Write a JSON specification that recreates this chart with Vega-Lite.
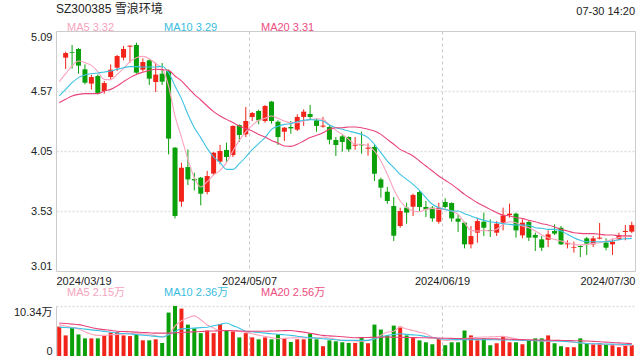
{
  "$schema": "https://vega.github.io/schema/vega-lite/v6.json",
  "background": "white",
  "padding": {"left": 5, "top": 2, "right": 6, "bottom": 0},
  "config": {"font": "Liberation Sans, Noto Sans CJK SC", "view": {"stroke": null}},
  "title": {"text": "SZ300385 雪浪环境", "anchor": "start", "frame": "group", "fontSize": 12, "fontWeight": "normal", "color": "#222", "offset": 0, "dy": 10},
  "spacing": 35,
  "bounds": "flush",
  "resolve": {"scale": {"color": "independent"}, "legend": {"color": "independent"}},
  "datasets": {
    "k": [
      {"n":0,"d":"03-19","v":6.08},
      {"n":1,"d":"03-20","o":4.859,"h":4.911,"l":4.761,"c":4.899,"v":4.26},
      {"n":2,"d":"03-21","o":4.908,"h":4.969,"l":4.764,"c":4.902,"v":5.82},
      {"n":3,"d":"03-22","o":4.934,"h":4.943,"l":4.720,"c":4.790,"v":4.46},
      {"n":4,"d":"03-25","o":4.758,"h":4.801,"l":4.628,"c":4.642,"v":3.65},
      {"n":5,"d":"03-26","o":4.634,"h":4.709,"l":4.582,"c":4.691,"v":3.65},
      {"n":6,"d":"03-27","o":4.700,"h":4.714,"l":4.541,"c":4.553,"v":3.65},
      {"n":7,"d":"03-28","o":4.570,"h":4.657,"l":4.547,"c":4.639,"v":4.19},
      {"n":8,"d":"03-29","o":4.691,"h":4.801,"l":4.671,"c":4.755,"v":4.87},
      {"n":9,"d":"04-01","o":4.772,"h":4.882,"l":4.743,"c":4.873,"v":4.93},
      {"n":10,"d":"04-02","o":4.859,"h":4.960,"l":4.836,"c":4.934,"v":4.26},
      {"n":11,"d":"04-03","o":4.954,"h":4.966,"l":4.816,"c":4.963,"v":4.12},
      {"n":12,"d":"04-08","o":4.969,"h":4.989,"l":4.720,"c":4.729,"v":4.46},
      {"n":13,"d":"04-09","o":4.755,"h":4.853,"l":4.738,"c":4.821,"v":3.24},
      {"n":14,"d":"04-10","o":4.836,"h":4.847,"l":4.622,"c":4.677,"v":3.24},
      {"n":15,"d":"04-11","o":4.648,"h":4.816,"l":4.561,"c":4.712,"v":3.45},
      {"n":16,"d":"04-12","o":4.720,"h":4.813,"l":4.622,"c":4.651,"v":2.70},
      {"n":17,"d":"04-15","o":4.743,"h":4.755,"l":4.021,"c":4.157,"v":8.98},
      {"n":18,"d":"04-16","o":4.079,"h":4.085,"l":3.466,"c":3.487,"v":10.34},
      {"n":19,"d":"04-17","o":3.611,"h":3.949,"l":3.567,"c":3.905,"v":9.80},
      {"n":20,"d":"04-18","o":3.911,"h":4.064,"l":3.755,"c":3.804,"v":6.49},
      {"n":21,"d":"04-19","o":3.807,"h":3.862,"l":3.709,"c":3.796,"v":5.74},
      {"n":22,"d":"04-22","o":3.819,"h":3.825,"l":3.579,"c":3.680,"v":4.73},
      {"n":23,"d":"04-23","o":3.695,"h":3.877,"l":3.674,"c":3.833,"v":5.27},
      {"n":24,"d":"04-24","o":3.854,"h":4.041,"l":3.842,"c":4.035,"v":4.73},
      {"n":25,"d":"04-25","o":3.958,"h":4.102,"l":3.934,"c":4.050,"v":6.63},
      {"n":26,"d":"04-26","o":4.059,"h":4.122,"l":3.949,"c":3.998,"v":5.27},
      {"n":27,"d":"04-29","o":4.015,"h":4.272,"l":3.998,"c":4.267,"v":5.07},
      {"n":28,"d":"04-30","o":4.275,"h":4.281,"l":4.128,"c":4.189,"v":3.85},
      {"n":29,"d":"05-06","o":4.194,"h":4.431,"l":4.171,"c":4.310,"v":4.73},
      {"n":30,"d":"05-07","o":4.345,"h":4.388,"l":4.310,"c":4.379,"v":3.85},
      {"n":31,"d":"05-08","o":4.397,"h":4.408,"l":4.281,"c":4.316,"v":3.45},
      {"n":32,"d":"05-09","o":4.310,"h":4.449,"l":4.296,"c":4.440,"v":3.85},
      {"n":33,"d":"05-10","o":4.478,"h":4.483,"l":4.287,"c":4.310,"v":3.45},
      {"n":34,"d":"05-13","o":4.304,"h":4.316,"l":4.102,"c":4.171,"v":4.46},
      {"n":35,"d":"05-14","o":4.217,"h":4.258,"l":4.137,"c":4.252,"v":3.65},
      {"n":36,"d":"05-15","o":4.258,"h":4.310,"l":4.200,"c":4.246,"v":2.90},
      {"n":37,"d":"05-16","o":4.235,"h":4.368,"l":4.223,"c":4.345,"v":3.45},
      {"n":38,"d":"05-17","o":4.345,"h":4.411,"l":4.267,"c":4.391,"v":3.45},
      {"n":39,"d":"05-20","o":4.371,"h":4.449,"l":4.324,"c":4.345,"v":4.66},
      {"n":40,"d":"05-21","o":4.316,"h":4.333,"l":4.217,"c":4.267,"v":3.45},
      {"n":41,"d":"05-22","o":4.261,"h":4.345,"l":4.252,"c":4.270,"v":2.03},
      {"n":42,"d":"05-23","o":4.258,"h":4.267,"l":4.108,"c":4.148,"v":3.24},
      {"n":43,"d":"05-24","o":4.145,"h":4.171,"l":4.007,"c":4.102,"v":3.04},
      {"n":44,"d":"05-27","o":4.177,"h":4.189,"l":4.044,"c":4.128,"v":2.84},
      {"n":45,"d":"05-28","o":4.171,"h":4.177,"l":4.044,"c":4.064,"v":2.70},
      {"n":46,"d":"05-29","o":4.096,"h":4.171,"l":4.061,"c":4.105,"v":2.70},
      {"n":47,"d":"05-30","o":4.108,"h":4.218,"l":4.027,"c":4.099,"v":3.85},
      {"n":48,"d":"05-31","o":4.070,"h":4.116,"l":4.009,"c":4.079,"v":2.64},
      {"n":49,"d":"06-03","o":4.085,"h":4.108,"l":3.790,"c":3.853,"v":6.49},
      {"n":50,"d":"06-04","o":3.804,"h":3.819,"l":3.646,"c":3.732,"v":5.47},
      {"n":51,"d":"06-05","o":3.697,"h":3.738,"l":3.593,"c":3.617,"v":4.26},
      {"n":52,"d":"06-06","o":3.573,"h":3.651,"l":3.270,"c":3.316,"v":6.28},
      {"n":53,"d":"06-07","o":3.400,"h":3.559,"l":3.385,"c":3.530,"v":6.08},
      {"n":54,"d":"06-11","o":3.559,"h":3.602,"l":3.420,"c":3.516,"v":4.26},
      {"n":55,"d":"06-12","o":3.567,"h":3.680,"l":3.487,"c":3.669,"v":3.85},
      {"n":56,"d":"06-13","o":3.695,"h":3.703,"l":3.530,"c":3.565,"v":3.24},
      {"n":57,"d":"06-14","o":3.565,"h":3.617,"l":3.478,"c":3.544,"v":2.84},
      {"n":58,"d":"06-17","o":3.559,"h":3.573,"l":3.437,"c":3.466,"v":2.43},
      {"n":59,"d":"06-18","o":3.437,"h":3.602,"l":3.420,"c":3.559,"v":3.65},
      {"n":60,"d":"06-19","o":3.608,"h":3.640,"l":3.553,"c":3.565,"v":2.23},
      {"n":61,"d":"06-20","o":3.599,"h":3.605,"l":3.437,"c":3.466,"v":2.84},
      {"n":62,"d":"06-21","o":3.464,"h":3.501,"l":3.348,"c":3.437,"v":2.84},
      {"n":63,"d":"06-24","o":3.429,"h":3.438,"l":3.206,"c":3.241,"v":5.27},
      {"n":64,"d":"06-25","o":3.241,"h":3.400,"l":3.206,"c":3.313,"v":4.26},
      {"n":65,"d":"06-26","o":3.342,"h":3.472,"l":3.255,"c":3.443,"v":3.24},
      {"n":66,"d":"06-27","o":3.437,"h":3.516,"l":3.313,"c":3.385,"v":3.65},
      {"n":67,"d":"06-28","o":3.365,"h":3.458,"l":3.305,"c":3.357,"v":2.23},
      {"n":68,"d":"07-01","o":3.342,"h":3.443,"l":3.313,"c":3.420,"v":2.64},
      {"n":69,"d":"07-02","o":3.429,"h":3.559,"l":3.362,"c":3.492,"v":4.05},
      {"n":70,"d":"07-03","o":3.495,"h":3.594,"l":3.472,"c":3.507,"v":2.84},
      {"n":71,"d":"07-04","o":3.507,"h":3.516,"l":3.299,"c":3.362,"v":2.84},
      {"n":72,"d":"07-05","o":3.319,"h":3.458,"l":3.293,"c":3.429,"v":2.43},
      {"n":73,"d":"07-08","o":3.435,"h":3.443,"l":3.270,"c":3.299,"v":3.24},
      {"n":74,"d":"07-09","o":3.322,"h":3.342,"l":3.183,"c":3.299,"v":3.65},
      {"n":75,"d":"07-10","o":3.284,"h":3.313,"l":3.183,"c":3.212,"v":3.65},
      {"n":76,"d":"07-11","o":3.281,"h":3.362,"l":3.218,"c":3.328,"v":4.26},
      {"n":77,"d":"07-12","o":3.357,"h":3.414,"l":3.322,"c":3.334,"v":2.64},
      {"n":78,"d":"07-15","o":3.385,"h":3.400,"l":3.235,"c":3.241,"v":2.03},
      {"n":79,"d":"07-16","o":3.241,"h":3.276,"l":3.206,"c":3.250,"v":1.82},
      {"n":80,"d":"07-17","o":3.212,"h":3.264,"l":3.169,"c":3.218,"v":1.82},
      {"n":81,"d":"07-18","o":3.227,"h":3.232,"l":3.131,"c":3.218,"v":3.65},
      {"n":82,"d":"07-19","o":3.293,"h":3.305,"l":3.149,"c":3.247,"v":2.64},
      {"n":83,"d":"07-22","o":3.241,"h":3.313,"l":3.218,"c":3.293,"v":2.43},
      {"n":84,"d":"07-23","o":3.290,"h":3.426,"l":3.284,"c":3.299,"v":2.64},
      {"n":85,"d":"07-24","o":3.256,"h":3.293,"l":3.189,"c":3.212,"v":2.43},
      {"n":86,"d":"07-25","o":3.241,"h":3.293,"l":3.149,"c":3.264,"v":2.43},
      {"n":87,"d":"07-26","o":3.284,"h":3.342,"l":3.276,"c":3.322,"v":1.82},
      {"n":88,"d":"07-29","o":3.348,"h":3.409,"l":3.276,"c":3.357,"v":2.43},
      {"n":89,"d":"07-30","o":3.351,"h":3.437,"l":3.339,"c":3.408,"v":2.23}
    ],
    "ma": [
      {"n":0,"MA5":4.651,"MA10":4.527,"MA20":4.469},
      {"n":1,"MA5":4.720,"MA10":4.584,"MA20":4.498},
      {"n":2,"MA5":4.787,"MA10":4.642,"MA20":4.527},
      {"n":3,"MA5":4.830,"MA10":4.686,"MA20":4.541},
      {"n":4,"MA5":4.816,"MA10":4.709,"MA20":4.547},
      {"n":5,"MA5":4.792,"MA10":4.720,"MA20":4.547},
      {"n":6,"MA5":4.738,"MA10":4.726,"MA20":4.547},
      {"n":7,"MA5":4.671,"MA10":4.735,"MA20":4.570},
      {"n":8,"MA5":4.668,"MA10":4.743,"MA20":4.584},
      {"n":9,"MA5":4.714,"MA10":4.758,"MA20":4.613},
      {"n":10,"MA5":4.766,"MA10":4.772,"MA20":4.651},
      {"n":11,"MA5":4.824,"MA10":4.781,"MA20":4.686},
      {"n":12,"MA5":4.859,"MA10":4.781,"MA20":4.714},
      {"n":13,"MA5":4.870,"MA10":4.778,"MA20":4.732},
      {"n":14,"MA5":4.850,"MA10":4.778,"MA20":4.749},
      {"n":15,"MA5":4.807,"MA10":4.778,"MA20":4.758},
      {"n":16,"MA5":4.766,"MA10":4.784,"MA20":4.755},
      {"n":17,"MA5":4.613,"MA10":4.729,"MA20":4.749},
      {"n":18,"MA5":4.353,"MA10":4.613,"MA20":4.700},
      {"n":19,"MA5":4.171,"MA10":4.504,"MA20":4.657},
      {"n":20,"MA5":3.978,"MA10":4.368,"MA20":4.599},
      {"n":21,"MA5":3.819,"MA10":4.252,"MA20":4.541},
      {"n":22,"MA5":3.738,"MA10":4.166,"MA20":4.492},
      {"n":23,"MA5":3.784,"MA10":4.073,"MA20":4.440},
      {"n":24,"MA5":3.842,"MA10":3.998,"MA20":4.391},
      {"n":25,"MA5":3.882,"MA10":3.949,"MA20":4.353},
      {"n":26,"MA5":3.949,"MA10":3.891,"MA20":4.324},
      {"n":27,"MA5":4.050,"MA10":3.891,"MA20":4.296},
      {"n":28,"MA5":4.142,"MA10":3.940,"MA20":4.267},
      {"n":29,"MA5":4.215,"MA10":3.998,"MA20":4.244},
      {"n":30,"MA5":4.272,"MA10":4.062,"MA20":4.223},
      {"n":31,"MA5":4.316,"MA10":4.114,"MA20":4.194},
      {"n":32,"MA5":4.333,"MA10":4.166,"MA20":4.171},
      {"n":33,"MA5":4.353,"MA10":4.238,"MA20":4.142},
      {"n":34,"MA5":4.333,"MA10":4.264,"MA20":4.119},
      {"n":35,"MA5":4.310,"MA10":4.281,"MA20":4.093},
      {"n":36,"MA5":4.296,"MA10":4.287,"MA20":4.090},
      {"n":37,"MA5":4.296,"MA10":4.304,"MA20":4.108},
      {"n":38,"MA5":4.310,"MA10":4.316,"MA20":4.137},
      {"n":39,"MA5":4.324,"MA10":4.322,"MA20":4.166},
      {"n":40,"MA5":4.330,"MA10":4.319,"MA20":4.186},
      {"n":41,"MA5":4.324,"MA10":4.310,"MA20":4.209},
      {"n":42,"MA5":4.275,"MA10":4.275,"MA20":4.238},
      {"n":43,"MA5":4.229,"MA10":4.252,"MA20":4.252},
      {"n":44,"MA5":4.194,"MA10":4.238,"MA20":4.252},
      {"n":45,"MA5":4.151,"MA10":4.223,"MA20":4.258},
      {"n":46,"MA5":4.108,"MA10":4.209,"MA20":4.258},
      {"n":47,"MA5":4.108,"MA10":4.194,"MA20":4.252},
      {"n":48,"MA5":4.093,"MA10":4.166,"MA20":4.238},
      {"n":49,"MA5":4.050,"MA10":4.108,"MA20":4.223},
      {"n":50,"MA5":3.963,"MA10":4.036,"MA20":4.194},
      {"n":51,"MA5":3.848,"MA10":3.963,"MA20":4.151},
      {"n":52,"MA5":3.718,"MA10":3.906,"MA20":4.108},
      {"n":53,"MA5":3.617,"MA10":3.848,"MA20":4.064},
      {"n":54,"MA5":3.559,"MA10":3.804,"MA20":4.036},
      {"n":55,"MA5":3.530,"MA10":3.761,"MA20":4.007},
      {"n":56,"MA5":3.524,"MA10":3.709,"MA20":3.963},
      {"n":57,"MA5":3.544,"MA10":3.645,"MA20":3.920},
      {"n":58,"MA5":3.553,"MA10":3.588,"MA20":3.877},
      {"n":59,"MA5":3.544,"MA10":3.559,"MA20":3.833},
      {"n":60,"MA5":3.544,"MA10":3.544,"MA20":3.796},
      {"n":61,"MA5":3.530,"MA10":3.530,"MA20":3.761},
      {"n":62,"MA5":3.501,"MA10":3.530,"MA20":3.718},
      {"n":63,"MA5":3.429,"MA10":3.507,"MA20":3.674},
      {"n":64,"MA5":3.362,"MA10":3.487,"MA20":3.637},
      {"n":65,"MA5":3.357,"MA10":3.466,"MA20":3.602},
      {"n":66,"MA5":3.362,"MA10":3.449,"MA20":3.573},
      {"n":67,"MA5":3.357,"MA10":3.437,"MA20":3.544},
      {"n":68,"MA5":3.371,"MA10":3.429,"MA20":3.515},
      {"n":69,"MA5":3.414,"MA10":3.420,"MA20":3.495},
      {"n":70,"MA5":3.437,"MA10":3.414,"MA20":3.487},
      {"n":71,"MA5":3.429,"MA10":3.409,"MA20":3.472},
      {"n":72,"MA5":3.400,"MA10":3.409,"MA20":3.466},
      {"n":73,"MA5":3.385,"MA10":3.406,"MA20":3.449},
      {"n":74,"MA5":3.357,"MA10":3.385,"MA20":3.437},
      {"n":75,"MA5":3.322,"MA10":3.380,"MA20":3.420},
      {"n":76,"MA5":3.299,"MA10":3.371,"MA20":3.409},
      {"n":77,"MA5":3.284,"MA10":3.371,"MA20":3.391},
      {"n":78,"MA5":3.270,"MA10":3.357,"MA20":3.371},
      {"n":79,"MA5":3.255,"MA10":3.328,"MA20":3.357},
      {"n":80,"MA5":3.241,"MA10":3.299,"MA20":3.342},
      {"n":81,"MA5":3.235,"MA10":3.276,"MA20":3.336},
      {"n":82,"MA5":3.241,"MA10":3.264,"MA20":3.334},
      {"n":83,"MA5":3.247,"MA10":3.264,"MA20":3.334},
      {"n":84,"MA5":3.255,"MA10":3.264,"MA20":3.328},
      {"n":85,"MA5":3.270,"MA10":3.264,"MA20":3.322},
      {"n":86,"MA5":3.284,"MA10":3.270,"MA20":3.322},
      {"n":87,"MA5":3.299,"MA10":3.281,"MA20":3.316},
      {"n":88,"MA5":3.310,"MA10":3.290,"MA20":3.316},
      {"n":89,"MA5":3.320,"MA10":3.293,"MA20":3.310}
    ],
    "vma": [
      {"n":0,"MA5":6.49,"MA10":5.95,"MA20":6.82},
      {"n":1,"MA5":6.2,"MA10":5.88,"MA20":6.71},
      {"n":2,"MA5":5.9,"MA10":5.81,"MA20":6.60},
      {"n":3,"MA5":5.61,"MA10":5.74,"MA20":6.49},
      {"n":4,"MA5":5.0,"MA10":5.55,"MA20":6.20},
      {"n":5,"MA5":4.5,"MA10":5.40,"MA20":5.90},
      {"n":6,"MA5":4.26,"MA10":5.27,"MA20":5.61},
      {"n":7,"MA5":4.3,"MA10":5.09,"MA20":5.45},
      {"n":8,"MA5":4.38,"MA10":4.91,"MA20":5.29},
      {"n":9,"MA5":4.46,"MA10":4.73,"MA20":5.13},
      {"n":10,"MA5":4.55,"MA10":4.64,"MA20":5.06},
      {"n":11,"MA5":4.65,"MA10":4.55,"MA20":5.00},
      {"n":12,"MA5":4.73,"MA10":4.46,"MA20":4.93},
      {"n":13,"MA5":4.6,"MA10":4.32,"MA20":4.86},
      {"n":14,"MA5":4.46,"MA10":4.19,"MA20":4.80},
      {"n":15,"MA5":4.2,"MA10":4.05,"MA20":4.73},
      {"n":16,"MA5":4.0,"MA10":3.92,"MA20":4.73},
      {"n":17,"MA5":4.4,"MA10":4.4,"MA20":4.73},
      {"n":18,"MA5":6.2,"MA10":5.1,"MA20":4.80},
      {"n":19,"MA5":7.3,"MA10":5.61,"MA20":4.86},
      {"n":20,"MA5":7.9,"MA10":5.68,"MA20":4.93},
      {"n":21,"MA5":8.3,"MA10":5.77,"MA20":5.00},
      {"n":22,"MA5":7.5,"MA10":5.86,"MA20":5.06},
      {"n":23,"MA5":6.4,"MA10":5.95,"MA20":5.13},
      {"n":24,"MA5":5.8,"MA10":6.24,"MA20":5.18},
      {"n":25,"MA5":5.27,"MA10":6.53,"MA20":5.22},
      {"n":26,"MA5":5.27,"MA10":6.82,"MA20":5.27},
      {"n":27,"MA5":5.27,"MA10":6.28,"MA20":5.22},
      {"n":28,"MA5":5.1,"MA10":5.76,"MA20":5.18},
      {"n":29,"MA5":4.93,"MA10":5.13,"MA20":5.13},
      {"n":30,"MA5":4.6,"MA10":5.0,"MA20":5.13},
      {"n":31,"MA5":4.3,"MA10":4.86,"MA20":5.13},
      {"n":32,"MA5":4.05,"MA10":4.73,"MA20":5.13},
      {"n":33,"MA5":3.8,"MA10":4.6,"MA20":5.16},
      {"n":34,"MA5":3.58,"MA10":4.5,"MA20":5.20},
      {"n":35,"MA5":3.65,"MA10":4.38,"MA20":5.24},
      {"n":36,"MA5":3.72,"MA10":4.26,"MA20":5.27},
      {"n":37,"MA5":3.78,"MA10":4.1,"MA20":5.1},
      {"n":38,"MA5":3.75,"MA10":3.92,"MA20":4.93},
      {"n":39,"MA5":3.72,"MA10":3.8,"MA20":4.7},
      {"n":40,"MA5":3.7,"MA10":3.69,"MA20":4.48},
      {"n":41,"MA5":3.92,"MA10":3.58,"MA20":4.26},
      {"n":42,"MA5":3.7,"MA10":3.47,"MA20":4.16},
      {"n":43,"MA5":3.47,"MA10":3.35,"MA20":4.07},
      {"n":44,"MA5":3.24,"MA10":3.24,"MA20":3.97},
      {"n":45,"MA5":3.17,"MA10":3.24,"MA20":3.88},
      {"n":46,"MA5":3.1,"MA10":3.24,"MA20":3.78},
      {"n":47,"MA5":3.04,"MA10":3.24,"MA20":3.81},
      {"n":48,"MA5":3.24,"MA10":3.24,"MA20":3.84},
      {"n":49,"MA5":3.5,"MA10":3.58,"MA20":3.87},
      {"n":50,"MA5":4.3,"MA10":3.92,"MA20":3.89},
      {"n":51,"MA5":4.9,"MA10":4.26,"MA20":3.92},
      {"n":52,"MA5":5.13,"MA10":4.43,"MA20":3.89},
      {"n":53,"MA5":5.95,"MA10":4.59,"MA20":3.86},
      {"n":54,"MA5":5.6,"MA10":4.48,"MA20":3.84},
      {"n":55,"MA5":5.27,"MA10":4.37,"MA20":3.81},
      {"n":56,"MA5":4.9,"MA10":4.26,"MA20":3.78},
      {"n":57,"MA5":4.59,"MA10":4.03,"MA20":3.76},
      {"n":58,"MA5":3.9,"MA10":3.81,"MA20":3.74},
      {"n":59,"MA5":3.58,"MA10":3.58,"MA20":3.72},
      {"n":60,"MA5":3.24,"MA10":3.51,"MA20":3.68},
      {"n":61,"MA5":3.3,"MA10":3.45,"MA20":3.65},
      {"n":62,"MA5":3.38,"MA10":3.38,"MA20":3.62},
      {"n":63,"MA5":3.58,"MA10":3.38,"MA20":3.58},
      {"n":64,"MA5":3.78,"MA10":3.38,"MA20":3.58},
      {"n":65,"MA5":3.85,"MA10":3.38,"MA20":3.58},
      {"n":66,"MA5":3.92,"MA10":3.38,"MA20":3.58},
      {"n":67,"MA5":3.95,"MA10":3.38,"MA20":3.58},
      {"n":68,"MA5":4.0,"MA10":3.35,"MA20":3.54},
      {"n":69,"MA5":4.05,"MA10":3.32,"MA20":3.50},
      {"n":70,"MA5":3.8,"MA10":3.30,"MA20":3.46},
      {"n":71,"MA5":3.58,"MA10":3.27,"MA20":3.42},
      {"n":72,"MA5":3.4,"MA10":3.24,"MA20":3.38},
      {"n":73,"MA5":3.24,"MA10":3.21,"MA20":3.35},
      {"n":74,"MA5":3.17,"MA10":3.19,"MA20":3.32},
      {"n":75,"MA5":3.1,"MA10":3.16,"MA20":3.30},
      {"n":76,"MA5":3.04,"MA10":3.14,"MA20":3.27},
      {"n":77,"MA5":3.15,"MA10":3.11,"MA20":3.24},
      {"n":78,"MA5":3.24,"MA10":3.04,"MA20":3.21},
      {"n":79,"MA5":3.0,"MA10":2.97,"MA20":3.19},
      {"n":80,"MA5":2.85,"MA10":2.90,"MA20":3.16},
      {"n":81,"MA5":2.70,"MA10":2.74,"MA20":3.14},
      {"n":82,"MA5":2.6,"MA10":2.57,"MA20":3.11},
      {"n":83,"MA5":2.5,"MA10":2.54,"MA20":3.03},
      {"n":84,"MA5":2.43,"MA10":2.51,"MA20":2.95},
      {"n":85,"MA5":2.37,"MA10":2.48,"MA20":2.87},
      {"n":86,"MA5":2.31,"MA10":2.45,"MA20":2.79},
      {"n":87,"MA5":2.25,"MA10":2.42,"MA20":2.71},
      {"n":88,"MA5":2.2,"MA10":2.39,"MA20":2.63},
      {"n":89,"MA5":2.15,"MA10":2.36,"MA20":2.56}
    ]
  },
  "vconcat": [
    {
      "width": 579,
      "height": 240,
      "title": {"text": "07-30 14:20", "anchor": "end", "frame": "group", "fontSize": 11, "fontWeight": "normal", "color": "#222", "offset": 5},
      "view": {"stroke": "#cccccc"},
      "encoding": {
        "x": {"field": "n", "type": "quantitative",
              "scale": {"domain": [-0.5, 89.5], "nice": false, "zero": false, "padding": 0},
              "axis": {"values": [-0.5, 29.5, 59.5, 89.5],
                       "labelExpr": "datum.value < 0 ? '2024/03/19' : datum.value < 40 ? '2024/05/07' : datum.value < 70 ? '2024/06/19' : '2024/07/30'",
                       "labelFlush": true, "ticks": false, "domain": false, "title": null,
                       "labelFontSize": 11, "labelColor": "#222", "labelPadding": 4,
                       "grid": true, "gridDash": [3, 3], "gridColor": "#c8c8c8",
                       "gridOpacity": {"condition": {"test": "datum.value < 0 || datum.value > 89", "value": 0}, "value": 1}}}
      },
      "layer": [
        {
          "data": {"name": "k"},
          "transform": [{"filter": "isValid(datum.o)"}],
          "mark": {"type": "rule", "strokeWidth": 1},
          "encoding": {
            "y": {"field": "l", "type": "quantitative",
                  "scale": {"domain": [3.01, 5.09], "nice": false, "zero": false},
                  "axis": {"values": [3.01, 3.53, 4.05, 4.57, 5.09], "format": ".2f", "labelFlush": true,
                           "ticks": false, "domain": false, "title": null, "labelFontSize": 11, "labelColor": "#222",
                           "labelPadding": 4, "minExtent": 50, "maxExtent": 50,
                           "grid": true, "gridDash": [2, 2], "gridWidth": 1.5, "gridColor": "#dddddd",
                           "gridOpacity": {"condition": {"test": "datum.value < 3.02 || datum.value > 5.08", "value": 0}, "value": 1}}},
            "y2": {"field": "h"},
            "color": {"condition": {"test": "datum.c >= datum.o", "value": "#f2241a"}, "value": "#0aa00a"}
          }
        },
        {
          "data": {"name": "k"},
          "transform": [{"filter": "isValid(datum.o)"}],
          "mark": {"type": "bar", "size": 5},
          "encoding": {
            "y": {"field": "o", "type": "quantitative", "scale": {"domain": [3.01, 5.09], "nice": false, "zero": false}},
            "y2": {"field": "c"},
            "color": {"condition": {"test": "datum.c >= datum.o", "value": "#f2241a"}, "value": "#0aa00a"}
          }
        },
        {
          "data": {"name": "ma"},
          "transform": [{"fold": ["MA5", "MA10", "MA20"], "as": ["s", "v"]}],
          "mark": {"type": "line", "strokeWidth": 1.1, "interpolate": "monotone"},
          "encoding": {
            "y": {"field": "v", "type": "quantitative", "scale": {"domain": [3.01, 5.09], "nice": false, "zero": false}},
            "color": {"field": "s", "type": "nominal",
                      "scale": {"domain": ["MA5", "MA10", "MA20"], "range": ["#fba3bd", "#3cc3e3", "#e9447a"]},
                      "legend": {"orient": "none", "legendX": 0, "legendY": -9, "direction": "horizontal", "title": null,
                                 "symbolOpacity": 0, "symbolSize": 0, "symbolStrokeWidth": 0, "labelOffset": 0,
                                 "labelFontSize": 11, "gridAlign": "all", "columnPadding": 32,
                                 "labelExpr": "datum.label == 'MA5' ? 'MA5 3.32' : datum.label == 'MA10' ? 'MA10 3.29' : 'MA20 3.31'",
                                 "encode": {"labels": {"update": {"fill": {"signal": "datum.value == 'MA5' ? '#f7a3be' : datum.value == 'MA10' ? '#38bde0' : '#ec4d7f'"}}}}}}
          }
        },
        {
          "mark": {"type": "text", "text": "sina.com", "fontSize": 11, "color": "#d4d4d4"},
          "encoding": {"x": {"datum": 84.7}, "y": {"datum": 3.19}}
        }
      ]
    },
    {
      "width": 579,
      "height": 50,
      "encoding": {
        "x": {"field": "n", "type": "quantitative",
              "scale": {"domain": [-0.5, 89.5], "nice": false, "zero": false, "padding": 0},
              "axis": {"values": [29.5, 59.5], "labels": false, "ticks": false, "domain": false, "title": null,
                       "grid": true, "gridDash": [3, 3], "gridColor": "#c8c8c8"}}
      },
      "layer": [
        {
          "data": {"name": "k"},
          "mark": {"type": "bar", "size": 4},
          "encoding": {
            "y": {"field": "v", "type": "quantitative",
                  "scale": {"domain": [0, 10.34], "nice": false},
                  "axis": {"values": [0, 10.34], "labelExpr": "datum.value == 0 ? '0' : format(datum.value, '.2f') + '万'",
                           "labelFlush": true, "ticks": false, "domain": true, "domainColor": "#cccccc", "title": null,
                           "labelFontSize": 11, "labelColor": "#222", "labelPadding": 4, "minExtent": 50, "maxExtent": 50,
                           "grid": true, "gridDash": [2, 2], "gridWidth": 1.5, "gridColor": "#dddddd",
                           "gridOpacity": {"condition": {"test": "datum.value == 0", "value": 0}, "value": 1}}},
            "color": {"condition": {"test": "!(datum.c < datum.o)", "value": "#f2241a"}, "value": "#0aa00a"}
          }
        },
        {
          "data": {"name": "vma"},
          "transform": [{"fold": ["MA5", "MA10", "MA20"], "as": ["s", "v"]}],
          "mark": {"type": "line", "strokeWidth": 1.1, "interpolate": "monotone"},
          "encoding": {
            "y": {"field": "v", "type": "quantitative", "scale": {"domain": [0, 10.34], "nice": false}},
            "color": {"field": "s", "type": "nominal",
                      "scale": {"domain": ["MA5", "MA10", "MA20"], "range": ["#fba3bd", "#3cc3e3", "#e9447a"]},
                      "legend": {"orient": "none", "legendX": 0, "legendY": -19, "direction": "horizontal", "title": null,
                                 "symbolOpacity": 0, "symbolSize": 0, "symbolStrokeWidth": 0, "labelOffset": 0,
                                 "labelFontSize": 11, "gridAlign": "all", "columnPadding": 21,
                                 "labelExpr": "datum.label == 'MA5' ? 'MA5 2.15万' : datum.label == 'MA10' ? 'MA10 2.36万' : 'MA20 2.56万'",
                                 "encode": {"labels": {"update": {"fill": {"signal": "datum.value == 'MA5' ? '#f7a3be' : datum.value == 'MA10' ? '#38bde0' : '#ec4d7f'"}}}}}}
          }
        }
      ]
    }
  ]
}
